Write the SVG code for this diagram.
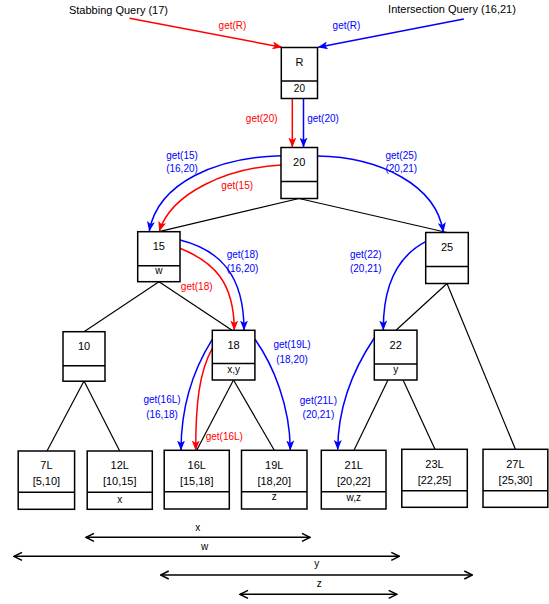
<svg xmlns="http://www.w3.org/2000/svg" width="549" height="604" viewBox="0 0 549 604">
<defs>
<marker id="ar" viewBox="0 0 10 8" markerWidth="10" markerHeight="8" refX="9.5" refY="4" orient="auto" markerUnits="userSpaceOnUse"><path d="M0,0 L10,4 L0,8 L2.5,4 z" fill="#f00"/></marker>
<marker id="ab" viewBox="0 0 10 8" markerWidth="10" markerHeight="8" refX="9.5" refY="4" orient="auto" markerUnits="userSpaceOnUse"><path d="M0,0 L10,4 L0,8 L2.5,4 z" fill="#00f"/></marker>
<marker id="iv" viewBox="0 0 10 10" markerWidth="10" markerHeight="10" refX="9" refY="5" orient="auto-start-reverse" markerUnits="userSpaceOnUse"><path d="M1,1 L9,5 L1,9" fill="none" stroke="#000" stroke-width="1.5"/></marker>
<style>
.box{fill:#fff;stroke:#000;stroke-width:1.5}
.dv{stroke:#000;stroke-width:1.5}
.t{font-family:"Liberation Sans",Arial,Helvetica,sans-serif;font-size:11px;fill:#000;text-anchor:middle}
.s{font-size:10px}
.lr{font-family:"Liberation Sans",Arial,Helvetica,sans-serif;font-size:10px;fill:#f00;text-anchor:middle}
.lb{font-family:"Liberation Sans",Arial,Helvetica,sans-serif;font-size:10px;fill:#00f;text-anchor:middle}
.e{stroke:#000;stroke-width:1.2;fill:none}
.r{stroke:#f00;stroke-width:1.5;fill:none;marker-end:url(#ar)}
.b{stroke:#00f;stroke-width:1.5;fill:none;marker-end:url(#ab)}
.iv{stroke:#000;stroke-width:1.5;fill:none;marker-start:url(#iv);marker-end:url(#iv)}
</style>
</defs>
<rect width="549" height="604" fill="#fff"/>

<g id="connectors">
<path class="e" d="M299,198.5 L159,231.7"/>
<path class="e" d="M299,198.5 L447,232.5"/>
<path class="e" d="M159,281.7 L84,331.7"/>
<path class="e" d="M159,281.7 L232,330.3"/>
<path class="e" d="M447,283.5 L396,330.2"/>
<path class="e" d="M447,283.5 L515.4,449.3"/>
<path class="e" d="M84,381 L47,451"/>
<path class="e" d="M84,381 L119.7,451"/>
<path class="e" d="M233.5,380 L196.7,450.3"/>
<path class="e" d="M233.5,380 L274.3,450.3"/>
<path class="e" d="M395.7,364 L354,450.3"/>
<path class="e" d="M395.7,364 L435,449.3"/>

<path class="r" d="M129.5,18.3 L281.8,47.2"/>
<path class="b" d="M463.8,19 L318.3,47.2"/>
<path class="r" d="M292.3,98.3 L292.3,147"/>
<path class="b" d="M303.5,98.3 L303.5,147"/>
<path class="b" d="M281,155.7 C218,157 158,182 149.3,231"/>
<path class="r" d="M281,165 C228,168 172,192 159.3,231"/>
<path class="b" d="M317.5,156 C380,157 436,185 443.3,232"/>
<path class="b" d="M180,240 C220,250 244,275 244,330"/>
<path class="r" d="M180,248.3 C214,262 234,282 234.3,330"/>
<path class="b" d="M425.7,241.7 C398,256 383,285 383.3,330"/>
<path class="b" d="M212.3,339.3 C193,370 181,405 181,450"/>
<path class="r" d="M212.3,348.3 C199,372 195.7,405 195.7,450"/>
<path class="b" d="M255,339.3 C273,365 290,405 290.3,450"/>
<path class="b" d="M374.3,338 C354,368 338,405 337.7,449.5"/>

<text class="lr" x="232.5" y="28.5">get(R)</text>
<text class="lb" x="346.5" y="28.5">get(R)</text>
<text class="lr" x="261.7" y="122">get(20)</text>
<text class="lb" x="323" y="122">get(20)</text>
<text class="lb" x="182" y="158.5">get(15)</text>
<text class="lb" x="182" y="172">(16,20)</text>
<text class="lr" x="237.2" y="188.5">get(15)</text>
<text class="lb" x="401.3" y="158.5">get(25)</text>
<text class="lb" x="401.3" y="172">(20,21)</text>
<text class="lb" x="242.5" y="257.5">get(18)</text>
<text class="lb" x="242.5" y="272">(16,20)</text>
<text class="lr" x="196.7" y="290">get(18)</text>
<text class="lb" x="365.8" y="257.5">get(22)</text>
<text class="lb" x="365.8" y="272">(20,21)</text>
<text class="lb" x="292" y="348">get(19L)</text>
<text class="lb" x="292" y="362.5">(18,20)</text>
<text class="lb" x="162" y="403">get(16L)</text>
<text class="lb" x="162" y="417.5">(16,18)</text>
<text class="lb" x="318.4" y="403.5">get(21L)</text>
<text class="lb" x="318.4" y="418">(20,21)</text>
<text class="lr" x="224.3" y="440">get(16L)</text>

<path class="iv" d="M86,537.3 L310,537.3"/>
<path class="iv" d="M14,556.3 L399.3,556.3"/>
<path class="iv" d="M160.7,575 L472.3,575"/>
<path class="iv" d="M240,594.3 L396.7,594.3"/>
<text class="t s" x="197.7" y="531">x</text>
<text class="t s" x="204.7" y="550">w</text>
<text class="t s" x="316.7" y="566.5">y</text>
<text class="t s" x="319.3" y="587">z</text>
</g>

<g id="q-stab"><text class="t" x="118.5" y="13.5">Stabbing Query (17)</text></g>
<g id="q-inter"><text class="t" x="452" y="12.5">Intersection Query (16,21)</text></g>

<g id="nR"><rect class="box" x="281.3" y="47.5" width="36.2" height="51"/><line class="dv" x1="281.3" y1="81" x2="317.5" y2="81"/><text class="t" x="299.4" y="65.7">R</text><text class="t s" x="299.4" y="91.5">20</text></g>
<g id="n20"><rect class="box" x="281" y="147.5" width="36.5" height="51"/><line class="dv" x1="281" y1="181.5" x2="317.5" y2="181.5"/><text class="t" x="299.2" y="166.3">20</text></g>
<g id="n15"><rect class="box" x="137.7" y="231.7" width="42.3" height="50"/><line class="dv" x1="137.7" y1="265.7" x2="180" y2="265.7"/><text class="t" x="158.8" y="250">15</text><text class="t s" x="158.8" y="273.5">w</text></g>
<g id="n25"><rect class="box" x="425.7" y="232.5" width="42.6" height="51"/><line class="dv" x1="425.7" y1="266.5" x2="468.3" y2="266.5"/><text class="t" x="447" y="250.5">25</text></g>
<g id="n10"><rect class="box" x="63" y="331.7" width="42" height="49.5"/><line class="dv" x1="63" y1="365.7" x2="105" y2="365.7"/><text class="t" x="84" y="350">10</text></g>
<g id="n18"><rect class="box" x="212.3" y="330.3" width="42.6" height="49.7"/><line class="dv" x1="212.3" y1="363.5" x2="254.9" y2="363.5"/><text class="t" x="233.6" y="348.5">18</text><text class="t s" x="233.6" y="372.5">x,y</text></g>
<g id="n22"><rect class="box" x="374.3" y="330.2" width="42.7" height="49.8"/><line class="dv" x1="374.3" y1="364" x2="417" y2="364"/><text class="t" x="395.7" y="348.5">22</text><text class="t s" x="395.7" y="372.5">y</text></g>

<g id="n7L"><rect class="box" x="18.2" y="451" width="56.4" height="58.3"/><line class="dv" x1="18.2" y1="492.3" x2="74.6" y2="492.3"/><text class="t" x="46.4" y="469">7L</text><text class="t" x="46.4" y="485">[5,10]</text></g>
<g id="n12L"><rect class="box" x="87.2" y="451" width="65.1" height="58.3"/><line class="dv" x1="87.2" y1="492.3" x2="152.3" y2="492.3"/><text class="t" x="119.7" y="469">12L</text><text class="t" x="119.7" y="485">[10,15]</text><text class="t s" x="119.7" y="502.5">x</text></g>
<g id="n16L"><rect class="box" x="164.2" y="450.3" width="65.1" height="58.7"/><line class="dv" x1="164.2" y1="491.7" x2="229.3" y2="491.7"/><text class="t" x="196.7" y="468.5">16L</text><text class="t" x="196.7" y="484.5">[15,18]</text></g>
<g id="n19L"><rect class="box" x="241.5" y="450.3" width="65.5" height="58.7"/><line class="dv" x1="241.5" y1="491.7" x2="307" y2="491.7"/><text class="t" x="274.2" y="468.5">19L</text><text class="t" x="274.2" y="484.5">[18,20]</text><text class="t s" x="274.2" y="500">z</text></g>
<g id="n21L"><rect class="box" x="321.3" y="450.3" width="64.7" height="58.7"/><line class="dv" x1="321.3" y1="491.7" x2="386" y2="491.7"/><text class="t" x="353.7" y="468.5">21L</text><text class="t" x="353.7" y="484.5">[20,22]</text><text class="t s" x="353.7" y="501">w,z</text></g>
<g id="n23L"><rect class="box" x="401.8" y="449.3" width="65.5" height="58"/><line class="dv" x1="401.8" y1="490.7" x2="467.3" y2="490.7"/><text class="t" x="434.5" y="467.5">23L</text><text class="t" x="434.5" y="483.5">[22,25]</text></g>
<g id="n27L"><rect class="box" x="483" y="449.3" width="64.8" height="58"/><line class="dv" x1="483" y1="490.7" x2="547.8" y2="490.7"/><text class="t" x="515.4" y="467.5">27L</text><text class="t" x="515.4" y="483.5">[25,30]</text></g>
</svg>
